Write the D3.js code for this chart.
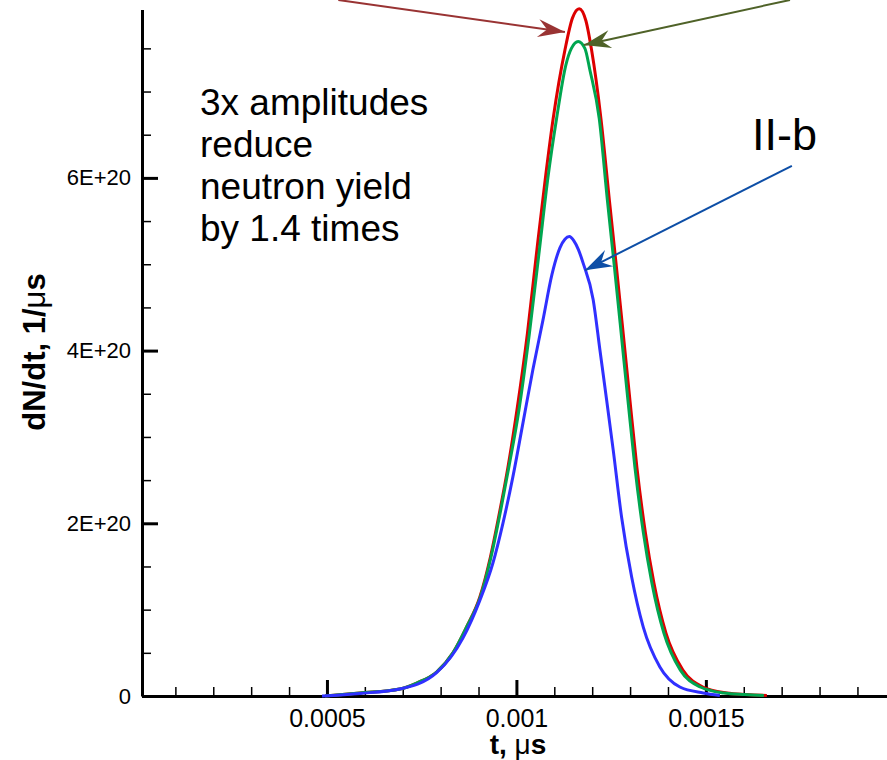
<!DOCTYPE html>
<html>
<head>
<meta charset="utf-8">
<script src="https://cdn.jsdelivr.net/npm/d3@7"></script>
<style>
  html, body { margin: 0; padding: 0; background: #fff; }
  text { font-family: "Liberation Sans", Arial, sans-serif; }
</style>
</head>
<body>
<div id="chart"></div>
<script>
// curve data, t in the axis units, dN/dt in 1/us
const tRed = [0.000495, 0.000587, 0.0006926, 0.0007367, 0.0007894, 0.0008325, 0.0008686, 0.0009037, 0.0009314, 0.0009565,
  0.0009776, 0.0010013, 0.0010290, 0.0010541, 0.0010765, 0.0010971, 0.0011280, 0.0011478, 0.0011657, 0.0011834,
  0.0011984, 0.0012230, 0.0012454, 0.0012639, 0.0012818, 0.0012995, 0.0013179, 0.0013404, 0.0013628, 0.0013945,
  0.0014393, 0.0014921, 0.0015554, 0.0016082, 0.0016609];
const vRed = [0, 0.035e20, 0.081e20, 0.15e20, 0.278e20, 0.50e20, 0.80e20, 1.15e20, 1.61e20, 2.15e20,
  2.65e20, 3.31e20, 4.20e20, 5.17e20, 6.00e20, 6.69e20, 7.48e20, 7.85e20, 7.96e20, 7.82e20,
  7.48e20, 6.69e20, 5.74e20, 4.97e20, 4.20e20, 3.43e20, 2.65e20, 1.89e20, 1.31e20, 0.73e20,
  0.30e20, 0.104e20, 0.035e20, 0.017e20, 0.006e20];

const tGreen = [0.000495, 0.000587, 0.0006926, 0.0007367, 0.0007894, 0.0008325, 0.0008686, 0.0009050, 0.0009330, 0.0009585,
  0.0009800, 0.0010066, 0.0010343, 0.0010607, 0.0010831, 0.0011061, 0.0011306, 0.0011451, 0.0011631, 0.0011807,
  0.0011939, 0.0012185, 0.0012401, 0.0012586, 0.0012765, 0.0012942, 0.0013127, 0.0013351, 0.0013575, 0.0013892,
  0.0014327, 0.0014855, 0.0015475, 0.0016029, 0.0016530];
const vGreen = [0, 0.035e20, 0.081e20, 0.15e20, 0.278e20, 0.50e20, 0.80e20, 1.15e20, 1.61e20, 2.15e20,
  2.65e20, 3.31e20, 4.20e20, 5.17e20, 6.00e20, 6.69e20, 7.31e20, 7.50e20, 7.58e20, 7.50e20,
  7.25e20, 6.69e20, 5.74e20, 4.97e20, 4.20e20, 3.43e20, 2.65e20, 1.89e20, 1.31e20, 0.73e20,
  0.30e20, 0.104e20, 0.035e20, 0.017e20, 0.006e20];

const tBlue = [0.000487, 0.000587, 0.0006926, 0.0007894, 0.0008588, 0.0009037, 0.0009380, 0.0009644, 0.0009908, 0.0010172,
  0.0010435, 0.0010699, 0.0010937, 0.0011148, 0.0011280, 0.0011398, 0.0011517, 0.0011636, 0.0011763, 0.0012026,
  0.0012203, 0.0012380, 0.0012554, 0.0012776, 0.0013040, 0.0013346, 0.0013786, 0.0014314, 0.0014929, 0.0015369];
const vBlue = [0, 0.03e20, 0.081e20, 0.27e20, 0.67e20, 1.11e20, 1.54e20, 2.00e20, 2.54e20, 3.16e20,
  3.78e20, 4.35e20, 4.88e20, 5.19e20, 5.29e20, 5.32e20, 5.27e20, 5.17e20, 5.01e20, 4.59e20,
  4.01e20, 3.43e20, 2.85e20, 2.07e20, 1.38e20, 0.80e20, 0.336e20, 0.104e20, 0.035e20, 0.006e20];

// ticks
const xMajor = [0.0005, 0.001, 0.0015];
const xLabels = ['0.0005', '0.001', '0.0015'];
const xMinor = [0.0001, 0.0002, 0.0003, 0.0004, 0.0006, 0.0007, 0.0008, 0.0009,
  0.0011, 0.0012, 0.0013, 0.0014, 0.0016, 0.0017, 0.0018, 0.0019];
const yMajor = [0, 2e20, 4e20, 6e20];
const yLabels = ['0', '2E+20', '4E+20', '6E+20'];
const yMinor = [0.5e20, 1e20, 1.5e20, 2.5e20, 3e20, 3.5e20, 4.5e20, 5e20, 5.5e20, 6.5e20, 7e20, 7.5e20];

// annotation arrows: [t0, v0, t1, v1] (tail -> head)
const arrowRed = [0.000530, 8.06e20, 0.001128, 7.69e20];
const arrowGreen = [0.001722, 8.06e20, 0.001178, 7.54e20];
const arrowBlue = [0.001727, 6.14e20, 0.001181, 4.93e20];

const noteLines = ['3x amplitudes', 'reduce', 'neutron yield', 'by 1.4 times'];

const w = 887;
const h = 760;

const x = d3.scaleLinear()
  .domain([0.0000119, 0.001978])
  .range([142, 887]);

const y = d3.scaleLinear()
  .domain([0, 7.95e20])
  .range([696, 9.5]);

const svg = d3.select('#chart')
  .append('svg')
  .attr('width', w)
  .attr('height', h);

// stealth arrow heads
const defs = svg.append('defs');
[['red', '#993333'], ['green', '#4f6228'], ['blue', '#0d4ea6']].forEach(([k, c]) => {
  defs.append('marker')
    .attr('id', 'head-' + k)
    .attr('viewBox', '-28 -10 30 20')
    .attr('refX', 0)
    .attr('refY', 0)
    .attr('markerWidth', 30)
    .attr('markerHeight', 20)
    .attr('markerUnits', 'userSpaceOnUse')
    .attr('orient', 'auto')
    .append('path')
    .attr('d', 'M0,0 L-27,-9 L-18,0 L-27,9 Z')
    .attr('fill', c);
});

// axes
const gx = svg.append('g').attr('transform', 'translate(0,696)');
gx.call(d3.axisBottom(x).tickValues(xMinor).tickSize(-9).tickSizeOuter(0).tickFormat(''));
gx.selectAll('.tick line').attr('stroke', '#000').attr('stroke-width', 1.5);
gx.select('.domain').remove();

const gxm = svg.append('g').attr('transform', 'translate(0,696)');
gxm.call(d3.axisBottom(x).tickValues(xMajor).tickSize(-16).tickSizeOuter(0).tickPadding(13)
  .tickFormat((d, i) => xLabels[i]));
gxm.selectAll('.tick line').attr('stroke', '#000').attr('stroke-width', 3);
gxm.select('.domain').attr('stroke', '#000').attr('stroke-width', 3);
gxm.selectAll('.tick text').attr('fill', '#000').style('font-size', '25px')
  .style('font-family', '"Liberation Sans", Arial, sans-serif');

const gy = svg.append('g').attr('transform', 'translate(142,0)');
gy.call(d3.axisLeft(y).tickValues(yMinor).tickSize(-9).tickSizeOuter(0).tickFormat(''));
gy.selectAll('.tick line').attr('stroke', '#000').attr('stroke-width', 1.5);
gy.select('.domain').remove();

const gym = svg.append('g').attr('transform', 'translate(142,0)');
gym.call(d3.axisLeft(y).tickValues(yMajor).tickSize(-16).tickSizeOuter(0).tickPadding(11)
  .tickFormat((d, i) => yLabels[i]));
gym.selectAll('.tick text').attr('fill', '#000').style('font-size', '22px')
  .style('font-family', '"Liberation Sans", Arial, sans-serif');
gym.selectAll('.tick line').attr('stroke', '#000').attr('stroke-width', 3);
gym.select('.domain').attr('stroke', '#000').attr('stroke-width', 3);

// axis titles
svg.append('text')
  .attr('x', 518)
  .attr('y', 754)
  .attr('text-anchor', 'middle')
  .style('font-size', '28px')
  .style('font-weight', 'bold')
  .call(t => {
    t.append('tspan').text('t, ');
    t.append('tspan').style('font-weight', 'normal').text('μ');
    t.append('tspan').text('s');
  });

svg.append('text')
  .attr('transform', 'translate(45,352) rotate(-90)')
  .attr('text-anchor', 'middle')
  .style('font-size', '31px')
  .style('font-weight', 'bold')
  .call(t => {
    t.append('tspan').text('dN/dt, 1/');
    t.append('tspan').style('font-weight', 'normal').text('μ');
    t.append('tspan').text('s');
  });

// curves
const line = d3.line()
  .x(d => x(d[0]))
  .y(d => y(d[1]))
  .curve(d3.curveMonotoneX);

const series = [
  { t: tRed, v: vRed, color: '#dd0000' },
  { t: tGreen, v: vGreen, color: '#00a650' },
  { t: tBlue, v: vBlue, color: '#3030ff' }
];

svg.selectAll('path.curve')
  .data(series)
  .enter()
  .append('path')
  .attr('class', 'curve')
  .attr('d', s => line(s.t.map((t, i) => [t, s.v[i]])))
  .attr('fill', 'none')
  .attr('stroke', s => s.color)
  .attr('stroke-width', 3)
  .attr('stroke-linejoin', 'round');

// arrows
[[arrowRed, '#993333', 'red'], [arrowGreen, '#4f6228', 'green'], [arrowBlue, '#0d4ea6', 'blue']]
  .forEach(([a, c, k]) => {
    svg.append('line')
      .attr('x1', x(a[0]))
      .attr('y1', y(a[1]))
      .attr('x2', x(a[2]))
      .attr('y2', y(a[3]))
      .attr('stroke', c)
      .attr('stroke-width', 2)
      .attr('marker-end', 'url(#head-' + k + ')');
  });

// notes
svg.append('text')
  .attr('x', 200)
  .attr('y', 115)
  .style('font-size', '37px')
  .attr('fill', '#000')
  .selectAll('tspan')
  .data(noteLines)
  .enter()
  .append('tspan')
  .attr('x', 200)
  .attr('dy', (d, i) => i === 0 ? 0 : 42)
  .text(d => d);

svg.append('text')
  .attr('x', 752)
  .attr('y', 150)
  .style('font-size', '45px')
  .attr('fill', '#000')
  .text('II-b');
</script>
</body>
</html>
